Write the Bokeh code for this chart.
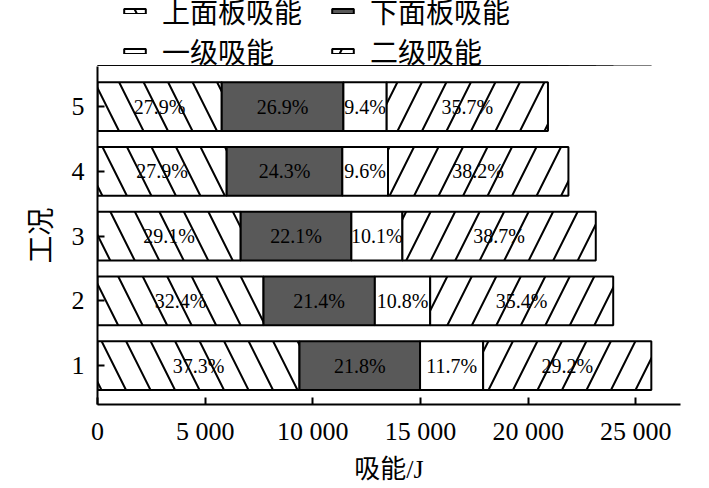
from bokeh.plotting import figure
from bokeh.layouts import column
from bokeh.models import Range1d, FixedTicker, Legend, LegendItem, ColumnDataSource
from bokeh.embed import file_html
from bokeh.resources import INLINE
from bokeh.core.properties import value

# ---- data ----
cases = [1, 2, 3, 4, 5]
upper_panel = [9380, 7710, 6650, 6000, 5770]   # 上面板吸能 (J)
lower_panel = [5600, 5170, 5140, 5370, 5650]   # 下面板吸能 (J)
stage_one = [2930, 2570, 2370, 2120, 2010]     # 一级吸能 (J)
stage_two = [7810, 8500, 8980, 8380, 7490]     # 二级吸能 (J)
upper_pct = ["37.3%", "32.4%", "29.1%", "27.9%", "27.9%"]
lower_pct = ["21.8%", "21.4%", "22.1%", "24.3%", "26.9%"]
one_pct = ["11.7%", "10.8%", "10.1%", "9.6%", "9.4%"]
two_pct = ["29.2%", "35.4%", "38.7%", "38.2%", "35.7%"]
series_names = ["上面板吸能", "下面板吸能", "一级吸能", "二级吸能"]
x_ticks = [0, 5000, 10000, 15000, 20000, 25000]
x_tick_labels = ["0", "5 000", "10 000", "15 000", "20 000", "25 000"]
x_title = "吸能/J"
y_title = "工况"

SERIF = "Liberation Serif"
MIXED = "Liberation Serif, Noto Sans CJK SC"
FILLS = ["white", "#595959", "white", "white"]
HATCHES = ["\\", " ", " ", "/"]


def style_bars(rs):
    for r, h in zip(rs, HATCHES):
        r.glyph.hatch_pattern = h
        r.glyph.hatch_color = "black"
        r.glyph.hatch_weight = 2
        r.glyph.hatch_scale = 49


keys = ["s0", "s1", "s2", "s3"]
source = ColumnDataSource(dict(case=cases, s0=upper_panel, s1=lower_panel,
                               s2=stage_one, s3=stage_two))

# ---------------- main chart ----------------
p = figure(width=700, height=420,
           x_range=Range1d(0, 27075), y_range=Range1d(0.4, 5.62),
           output_backend="svg", toolbar_location=None,
           min_border_left=97, min_border_right=20,
           min_border_top=0, min_border_bottom=82)
p.outline_line_color = None
p.grid.visible = False

renderers = p.hbar_stack(keys, y="case", height=0.755, source=source,
                         fill_color=FILLS, line_color="black", line_width=2)
style_bars(renderers)

# percentage labels centred in each segment
stacks = [upper_panel, lower_panel, stage_one, stage_two]
pcts = [upper_pct, lower_pct, one_pct, two_pct]
lx, ly, lt = [], [], []
lefts = [0] * len(cases)
for vals, labs in zip(stacks, pcts):
    for i, (v, t) in enumerate(zip(vals, labs)):
        lx.append(lefts[i] + v / 2)
        ly.append(cases[i])
        lt.append(t)
        lefts[i] += v
p.text(x=lx, y=ly, text=lt, text_align="center", text_baseline="middle",
       text_font=value(SERIF), text_font_size="20px", text_color="black")

for ax in (p.xaxis[0], p.yaxis[0]):
    ax.axis_line_width = 2
    ax.axis_line_color = "black"
    ax.major_tick_line_width = 2
    ax.major_tick_line_color = "black"
    ax.major_tick_in = 7
    ax.major_tick_out = 0
    ax.minor_tick_line_color = None
    ax.major_label_text_font = SERIF
    ax.major_label_text_font_size = "26px"
    ax.major_label_text_color = "black"
    ax.axis_label_text_font = MIXED
    ax.axis_label_text_font_style = "normal"
    ax.axis_label_text_color = "black"

p.xaxis.ticker = FixedTicker(ticks=x_ticks)
p.xaxis.major_label_overrides = dict(zip(x_ticks, x_tick_labels))
p.xaxis.major_label_standoff = 12
p.xaxis.axis_label = x_title
p.xaxis.axis_label_text_font_size = "26px"
p.xaxis.axis_label_standoff = 6

p.yaxis.ticker = FixedTicker(ticks=cases)
p.yaxis.major_label_standoff = 13
p.yaxis.axis_label = y_title
p.yaxis.axis_label_text_font_size = "28px"
p.yaxis.axis_label_standoff = 12

# ---------------- legend strip above the chart ----------------
# same stacked bars, drawn out of view, so the legend swatches carry the same styles
lg = figure(width=700, height=66, x_range=Range1d(0, 27075), y_range=Range1d(100, 101),
            output_backend="svg", toolbar_location=None,
            min_border_left=0, min_border_right=0, min_border_top=0, min_border_bottom=0)
lg.axis.visible = False
lg.grid.visible = False
lg.outline_line_color = None
legend_rs = lg.hbar_stack(keys, y="case", height=0.755, source=source,
                          fill_color=FILLS, line_color="black", line_width=2)
style_bars(legend_rs)

legend = Legend(items=[LegendItem(label=n, renderers=[r]) for n, r in zip(series_names, legend_rs)],
                location=(24, -5), orientation="horizontal", ncols=2,
                glyph_width=27, glyph_height=6, label_standoff=14, spacing=0,
                label_width=167,
                padding=0, margin=0, border_line_color=None, background_fill_alpha=0,
                label_text_font=MIXED, label_text_font_size="28px",
                label_text_color="black")
lg.add_layout(legend, "center")

open("out.html", "w").write(file_html(column(lg, p, spacing=0), INLINE))
